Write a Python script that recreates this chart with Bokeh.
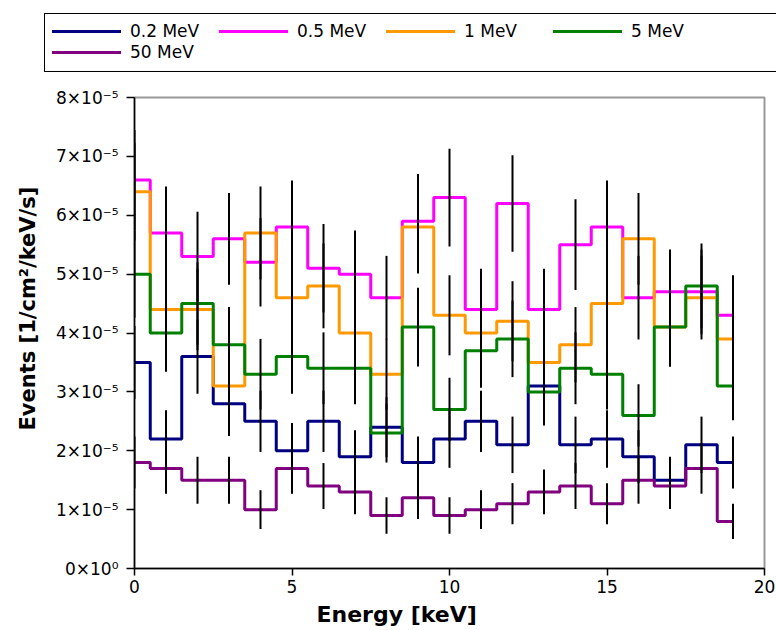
from bokeh.plotting import figure
from bokeh.layouts import column
from bokeh.models import FixedTicker, CustomJSTickFormatter, Range1d, Title, Div
from bokeh.embed import file_html
from bokeh.resources import INLINE

energy = list(range(20))
labels = ["0.2 MeV", "0.5 MeV", "1 MeV", "5 MeV", "50 MeV"]
colors = ["#000080", "#ff00ff", "#ff9900", "#008000", "#800080"]

s02 = [3.5, 2.2, 3.6, 2.8, 2.5, 2.0, 2.5, 1.9, 2.4, 1.8, 2.2, 2.5, 2.1, 3.1, 2.1, 2.2, 1.9, 1.5, 2.1, 1.8]
e02 = [0.62, 0.49, 0.63, 0.55, 0.52, 0.47, 0.52, 0.45, 0.51, 0.44, 0.49, 0.52, 0.48, 0.58, 0.48, 0.49, 0.45, 0.40, 0.48, 0.44]
s05 = [6.6, 5.7, 5.3, 5.6, 5.2, 5.8, 5.1, 5.0, 4.6, 5.9, 6.3, 4.4, 6.2, 4.4, 5.5, 5.8, 4.6, 4.7, 4.7, 4.3]
e05 = [0.85, 0.79, 0.76, 0.78, 0.75, 0.79, 0.75, 0.74, 0.71, 0.80, 0.83, 0.69, 0.82, 0.69, 0.77, 0.79, 0.71, 0.72, 0.72, 0.68]
s1 = [6.4, 4.4, 4.4, 3.1, 5.7, 4.6, 4.8, 4.0, 3.3, 5.8, 4.3, 4.0, 4.2, 3.5, 3.8, 4.5, 5.6, 4.1, 4.6, 3.9]
e1 = [0.83, 0.69, 0.69, 0.58, 0.79, 0.71, 0.72, 0.66, 0.60, 0.79, 0.68, 0.66, 0.68, 0.62, 0.64, 0.70, 0.78, 0.67, 0.71, 0.65]
s5 = [5.0, 4.0, 4.5, 3.8, 3.3, 3.6, 3.4, 3.4, 2.3, 4.1, 2.7, 3.7, 3.9, 3.0, 3.4, 3.3, 2.6, 4.1, 4.8, 3.1]
e5 = [0.74, 0.66, 0.70, 0.64, 0.60, 0.63, 0.61, 0.61, 0.50, 0.67, 0.54, 0.63, 0.65, 0.57, 0.61, 0.60, 0.53, 0.67, 0.72, 0.58]
s50 = [1.8, 1.7, 1.5, 1.5, 1.0, 1.7, 1.4, 1.3, 0.9, 1.2, 0.9, 1.0, 1.1, 1.3, 1.4, 1.1, 1.5, 1.4, 1.7, 0.8]
e50 = [0.44, 0.43, 0.40, 0.40, 0.33, 0.43, 0.39, 0.38, 0.31, 0.36, 0.31, 0.33, 0.35, 0.38, 0.39, 0.35, 0.40, 0.39, 0.43, 0.30]

UNIT = 1e-5
series = [s02, s05, s1, s5, s50]
errors = [e02, e05, e1, e5, e50]
y_ticks = [0, 1, 2, 3, 4, 5, 6, 7, 8]
x_ticks = [0, 5, 10, 15, 20]

FONT = "DejaVu Sans"

# ---------------- legend strip (HTML, above the plot) ----------------
LEG_H = 85
parts = ['<div style="position:relative;width:776px;height:%dpx;overflow:hidden;'
         'font-family:\'DejaVu Sans\';font-size:17px;color:black;background:white;">' % LEG_H,
         '<div style="position:absolute;left:44px;top:13px;width:780px;height:59px;'
         'border:1px solid black;box-sizing:border-box;"></div>']
for i, (lab, col) in enumerate(zip(labels, colors)):
    row, c = divmod(i, 4)
    cy = 31.5 + 21 * row
    gx = 52 + 167 * c
    parts.append('<div style="position:absolute;left:%dpx;top:%.1fpx;width:69px;height:3px;'
                 'background:%s;"></div>' % (gx, cy - 1.5, col))
    parts.append('<div style="position:absolute;left:%dpx;top:%.1fpx;line-height:21px;'
                 'white-space:nowrap;">%s</div>' % (gx + 78, cy - 10.5, lab))
parts.append('</div>')
legend_div = Div(text="".join(parts), width=776, height=LEG_H, margin=0)

# ---------------- main plot ----------------
p = figure(width=776, height=630 - LEG_H, output_backend="svg", toolbar_location=None,
           x_range=Range1d(0, 20), y_range=Range1d(0, 8 * UNIT),
           min_border_left=134, min_border_right=12, min_border_bottom=62,
           min_border_top=97 - LEG_H)

p.background_fill_color = "white"
p.border_fill_color = "white"
p.outline_line_color = "#999999"
p.outline_line_width = 2
p.xgrid.visible = False
p.ygrid.visible = False

for vals, col in zip(series, colors):
    y = [v * UNIT for v in vals]
    p.step(energy, y, mode="center", line_color=col, line_width=3)

for vals, errs in zip(series, errors):
    lo = [(v - e) * UNIT for v, e in zip(vals, errs)]
    hi = [(v + e) * UNIT for v, e in zip(vals, errs)]
    p.segment(x0=energy, y0=lo, x1=energy, y1=hi, line_color="black", line_width=2)

p.yaxis.ticker = FixedTicker(ticks=[t * UNIT for t in y_ticks])
p.yaxis.formatter = CustomJSTickFormatter(code="""
const n = Math.round(tick * 1e5);
if (n === 0) { return "0\u00d710\u2070"; }
return n + "\u00d710\u207b\u2075";
""")
p.xaxis.ticker = FixedTicker(ticks=x_ticks)

for ax in [p.xaxis[0], p.yaxis[0]]:
    ax.axis_line_color = "black"
    ax.axis_line_width = 1.5
    ax.major_tick_line_color = "black"
    ax.major_tick_line_width = 1.5
    ax.major_tick_in = 0
    ax.minor_tick_line_color = None
    ax.major_label_text_font = FONT
    ax.major_label_text_font_size = "17px"
    ax.major_label_text_color = "black"

p.yaxis.major_tick_out = 8
p.yaxis.major_label_standoff = 8
p.xaxis.major_tick_out = 7
p.xaxis.major_label_standoff = 4

ytitle = Title(text="Events [1/cm\u00b2/keV/s]", align="left", offset=138,
               text_font=FONT, text_font_style="bold", text_font_size="21px",
               text_color="black", standoff=27)
p.add_layout(ytitle, "left")

xtitle = Title(text="Energy [keV]", align="left", offset=182,
               text_font=FONT, text_font_style="bold", text_font_size="22px",
               text_color="black", standoff=8)
p.add_layout(xtitle, "below")

layout = column(legend_div, p, spacing=0)
open("out.html", "w").write(file_html(layout, INLINE))
